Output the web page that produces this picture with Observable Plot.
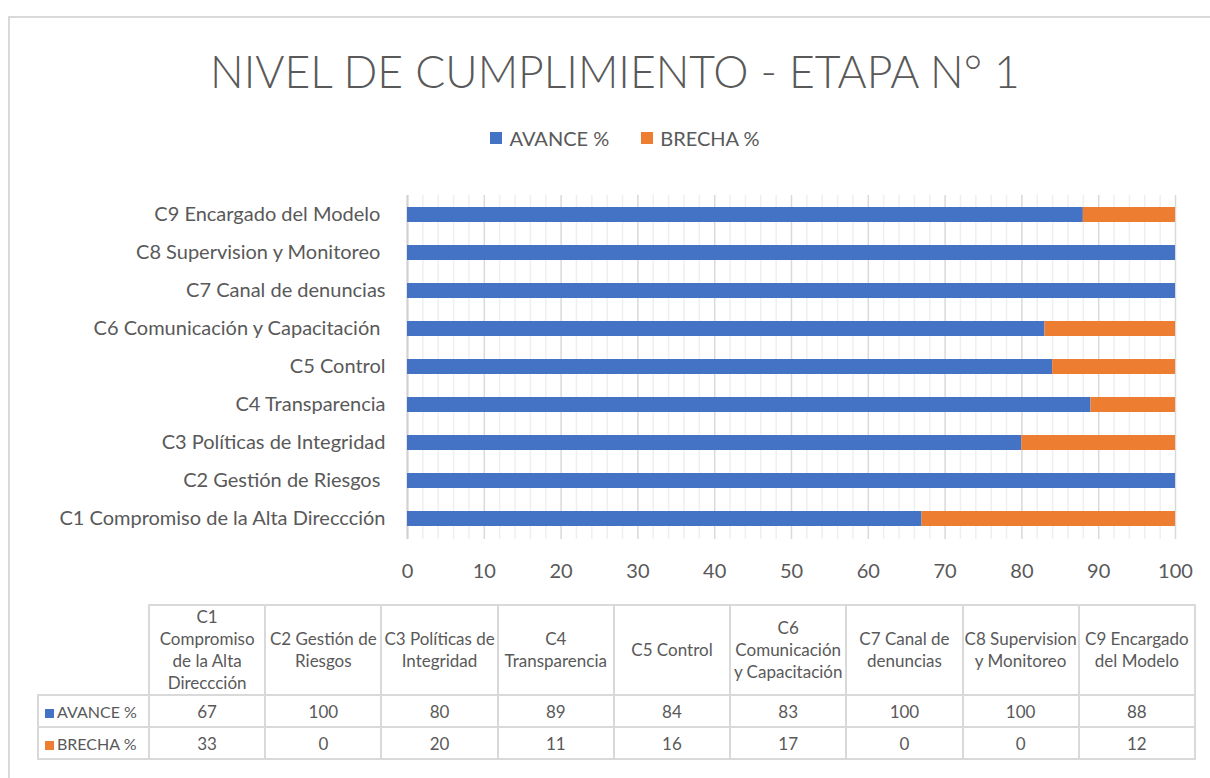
<!DOCTYPE html>
<html>
<head>
<meta charset="utf-8">
<script src="https://cdn.jsdelivr.net/npm/d3@7"></script>
<script src="https://cdn.jsdelivr.net/npm/@observablehq/plot@0.6"></script>
<style>
  html, body { margin:0; padding:0; background:#fff; width:1210px; height:778px; overflow:hidden; font-family: Lato, "Open Sans", sans-serif; color:#595959; }
  #frame { position:absolute; left:8px; top:16px; width:1400px; height:900px; border:2px solid #d9d9d9; box-sizing:border-box; }
  #title { position:absolute; left:0; top:49px; width:1230px; text-align:center; }
  #title span { font-size:50px; font-weight:300; white-space:nowrap; display:inline-block; line-height:1; }
  #legend { position:absolute; top:124px; left:0; width:1250px; text-align:center; font-size:20px; white-space:nowrap; }
  .lg { display:inline-flex; align-items:center; margin:0 16px; }
  .lg i { display:inline-block; width:12px; height:12px; margin-right:7px; }
  #chart { position:absolute; left:0; top:190px; }
  #chart svg text { white-space: pre; }
  #tbl { position:absolute; left:37px; top:604px; border-collapse:collapse; table-layout:fixed; font-size:17px; color:#595959; }
  #tbl td { border:2px solid #d9d9d9; text-align:center; padding:0 1px; }
  #tbl tr.h td { height:86px; line-height:22px; white-space:pre-line; }
  #tbl tr.v td { height:30px; }
  #tbl td.lab { text-align:left; padding-left:6px; white-space:nowrap; font-size:16px; }
  #tbl td.lab i { display:inline-block; width:9px; height:9px; margin-right:3px; }
  #tbl td.empty { border-top:none; border-left:none; }
</style>
</head>
<body>
<div id="frame"></div>
<div id="title"><span>NIVEL DE CUMPLIMIENTO - ETAPA N° 1</span></div>
<div id="legend"></div>
<div id="chart"></div>
<table id="tbl"></table>
<script>
// ---- data ----
const categories = [
  "C1 Compromiso de la Alta Direccción",
  "C2 Gestión de Riesgos ",
  "C3 Políticas de Integridad",
  "C4 Transparencia",
  "C5 Control",
  "C6 Comunicación y Capacitación ",
  "C7 Canal de denuncias",
  "C8 Supervision y Monitoreo ",
  "C9 Encargado del Modelo "
];
const tableHeaders = [
  "C1\nCompromiso\nde la Alta\nDireccción",
  "C2 Gestión de\nRiesgos",
  "C3 Políticas de\nIntegridad",
  "C4\nTransparencia",
  "C5 Control",
  "C6\nComunicación\ny Capacitación",
  "C7 Canal de\ndenuncias",
  "C8 Supervision\ny Monitoreo",
  "C9 Encargado\ndel Modelo"
];
const avance = [67, 100, 80, 89, 84, 83, 100, 100, 88];
const brecha = [33, 0, 20, 11, 16, 17, 0, 0, 12];
const seriesNames = ["AVANCE %", "BRECHA %"];
const seriesColors = ["#4472C4", "#ED7D31"];
const xTicks = [0, 10, 20, 30, 40, 50, 60, 70, 80, 90, 100];

// ---- build rows ----
const seriesValues = [avance, brecha];
const rows = [];
seriesNames.forEach((s, si) => categories.forEach((c, ci) => rows.push({category: c, series: s, value: seriesValues[si][ci]})));

// ---- title fit ----
const tspan = document.querySelector("#title span");
const tw = tspan.getBoundingClientRect().width;
tspan.style.fontSize = (50 * 810 / tw) + "px";

// ---- legend ----
document.getElementById("legend").innerHTML = seriesNames.map((s, i) =>
  `<span class="lg"><i style="background:${seriesColors[i]}"></i>${s}</span>`).join("");

// ---- chart ----
const minorTicks = d3.range(0, 101, 2).filter(d => d % 10 !== 0);
const chart = Plot.plot({
  width: 1210,
  height: 400,
  marginLeft: 407,
  marginRight: 35,
  marginTop: 5,
  marginBottom: 51,
  style: {fontFamily: "Lato, 'Open Sans', sans-serif", fontSize: "20px", color: "#595959", background: "transparent"},
  x: {domain: [0, 100], ticks: xTicks, tickSize: 0, tickPadding: 24, label: null},
  y: {domain: categories.slice().reverse(), paddingInner: 0.6, paddingOuter: 0.3, tickSize: 0, tickPadding: 22, label: null},
  color: {domain: seriesNames, range: seriesColors},
  marks: [
    Plot.ruleX(minorTicks, {stroke: "#efefef", strokeWidth: 1.5}),
    Plot.ruleX(xTicks, {stroke: "#d9d9d9", strokeWidth: 1.5}),
    Plot.ruleX([0], {stroke: "#d0d0d0", strokeWidth: 2}),
    Plot.barX(rows, {x: "value", y: "category", fill: "series"})
  ]
});
document.getElementById("chart").appendChild(chart);

// ---- table ----
const tbl = document.getElementById("tbl");
const colW = (1194 - 148) / categories.length;
let html = `<colgroup><col style="width:111px">${categories.map(() => `<col style="width:${colW}px">`).join("")}</colgroup>`;
html += `<tr class="h"><td class="empty"></td>${tableHeaders.map(h => `<td>${h}</td>`).join("")}</tr>`;
seriesNames.forEach((s, i) => {
  html += `<tr class="v"><td class="lab"><i style="background:${seriesColors[i]}"></i>${s}</td>${seriesValues[i].map(v => `<td>${v}</td>`).join("")}</tr>`;
});
tbl.innerHTML = html;
tbl.style.width = (111 + colW * categories.length) + "px";
</script>
</body>
</html>
